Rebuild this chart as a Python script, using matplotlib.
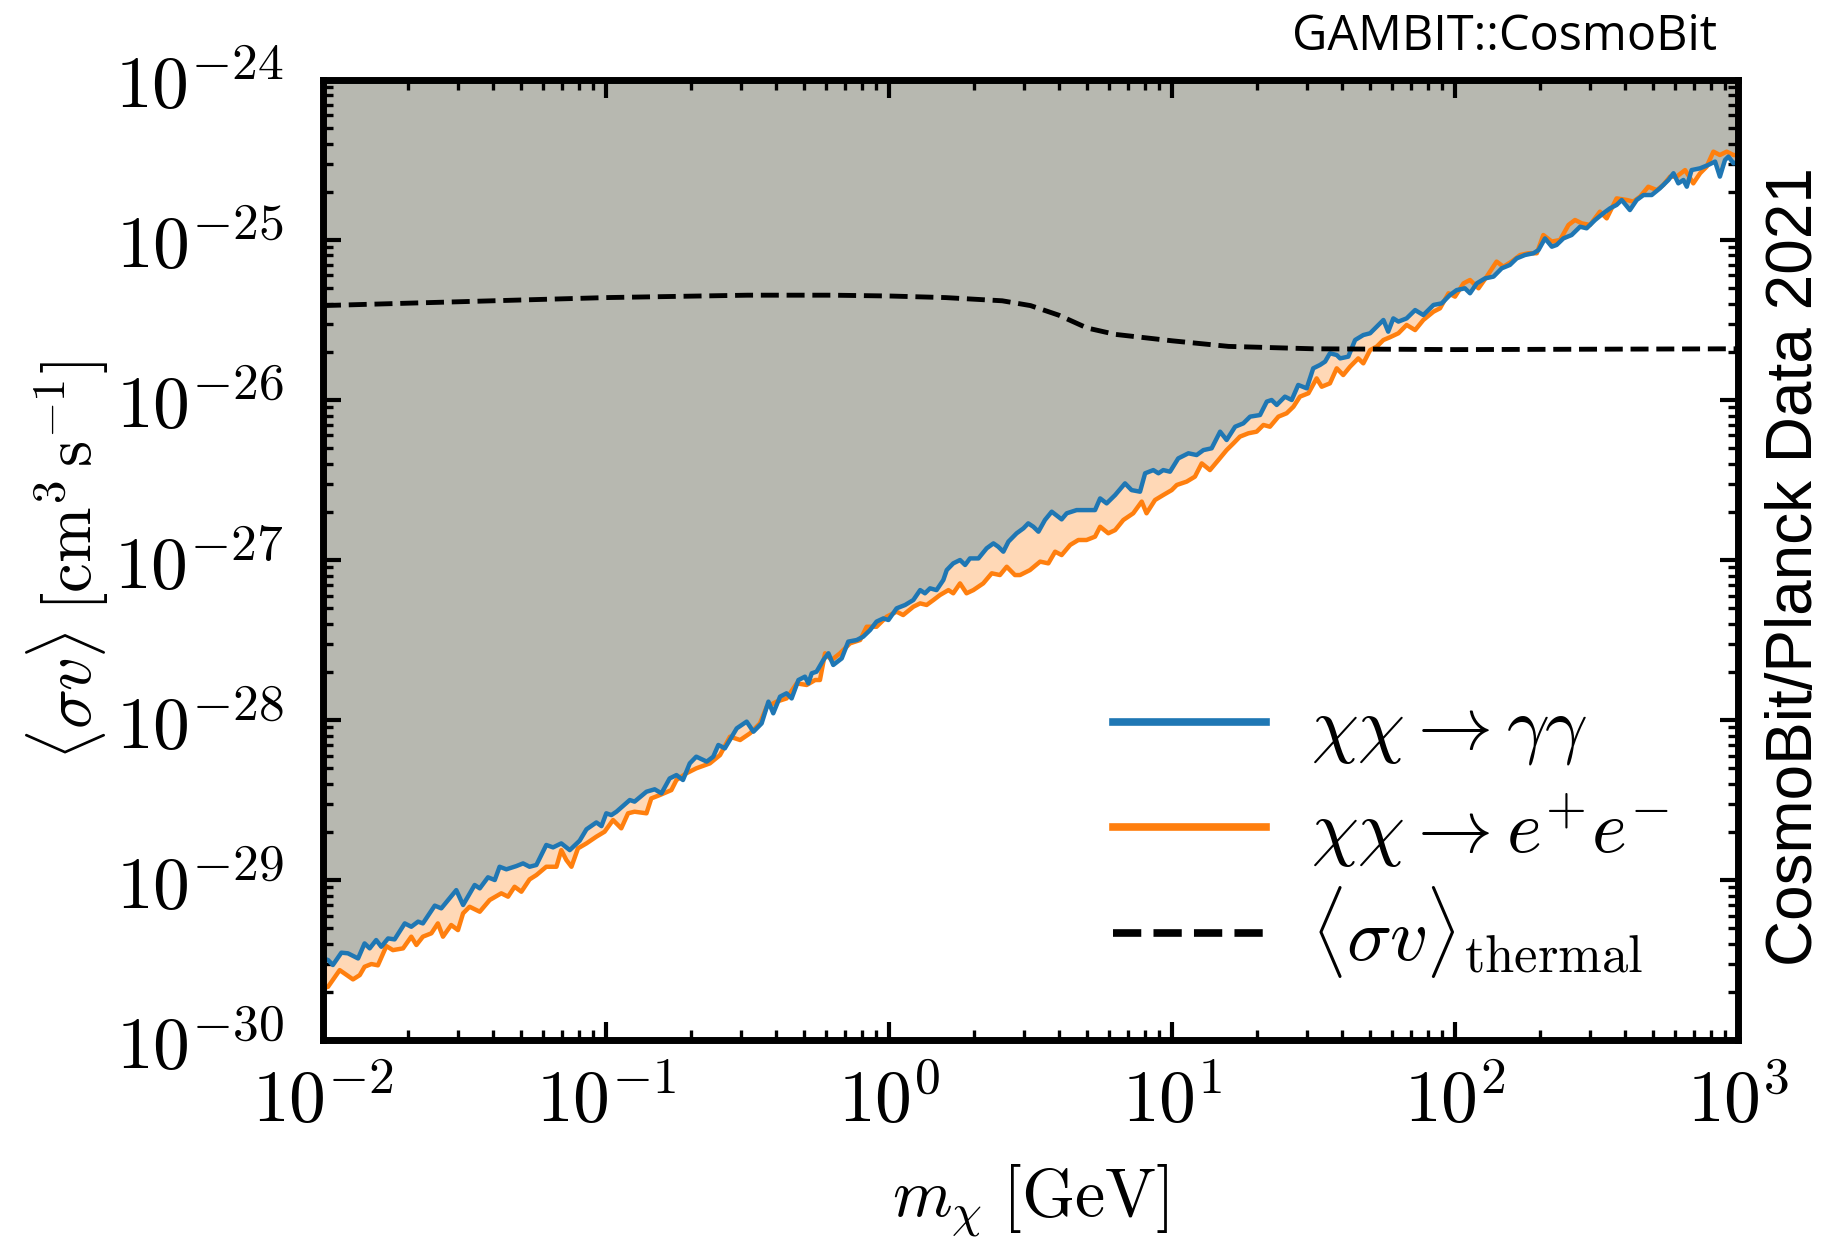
import numpy as np
import matplotlib
matplotlib.use("Agg")
import matplotlib.pyplot as plt
from matplotlib.lines import Line2D
from matplotlib.ticker import FuncFormatter, LogLocator, NullFormatter

plt.rcParams['mathtext.fontset'] = 'cm'
plt.rcParams['font.family'] = 'serif'

# values, stored as log10(m / GeV) and log10(<sigma v> / cm^3 s^-1)
# chi chi -> gamma gamma
gam_logm = [-2.0, -1.982, -1.965, -1.935, -1.912, -1.876, -1.853, -1.835, -1.812, -1.794, -1.770, -1.747,
            -1.711, -1.688, -1.664, -1.647, -1.605, -1.582, -1.529, -1.505, -1.464, -1.446, -1.417, -1.393,
            -1.376, -1.352, -1.317, -1.293, -1.270, -1.246, -1.211, -1.187, -1.158, -1.128, -1.093, -1.069,
            -1.034, -1.016, -0.999, -0.981, -0.963, -0.916, -0.899, -0.857, -0.828, -0.804, -0.775, -0.751,
            -0.728, -0.704, -0.681, -0.644, -0.621, -0.603, -0.580, -0.538, -0.503, -0.479, -0.450, -0.426,
            -0.409, -0.385, -0.362, -0.344, -0.320, -0.297, -0.285, -0.273, -0.256, -0.232, -0.214, -0.197,
            -0.167, -0.144, -0.114, -0.091, -0.067, -0.044, -0.020, -0.002, 0.027, 0.057, 0.086, 0.110,
            0.127, 0.145, 0.168, 0.192, 0.204, 0.227, 0.251, 0.269, 0.286, 0.316, 0.345, 0.369, 0.386,
            0.404, 0.422, 0.451, 0.475, 0.492, 0.510, 0.528, 0.551, 0.575, 0.610, 0.628, 0.663, 0.698,
            0.728, 0.746, 0.769, 0.799, 0.834, 0.857, 0.887, 0.905, 0.934, 0.952, 0.969, 0.993, 1.022,
            1.058, 1.087, 1.111, 1.140, 1.170, 1.193, 1.223, 1.252, 1.276, 1.311, 1.335, 1.352, 1.370,
            1.399, 1.423, 1.446, 1.476, 1.499, 1.523, 1.541, 1.558, 1.582, 1.594, 1.623, 1.647, 1.676,
            1.700, 1.723, 1.747, 1.764, 1.782, 1.800, 1.829, 1.859, 1.888, 1.924, 1.953, 1.982, 2.006,
            2.035, 2.053, 2.077, 2.106, 2.136, 2.165, 2.194, 2.218, 2.247, 2.277, 2.295, 2.318, 2.342,
            2.359, 2.383, 2.412, 2.442, 2.465, 2.495, 2.524, 2.548, 2.571, 2.589, 2.618, 2.642, 2.666,
            2.695, 2.724, 2.754, 2.772, 2.789, 2.807, 2.819, 2.836, 2.866, 2.895, 2.919, 2.936, 2.954,
            2.966, 2.984, 3.0]
gam_logsv = [-29.49, -29.500, -29.531, -29.454, -29.458, -29.490, -29.396, -29.427, -29.375, -29.417, -29.365, -29.371,
             -29.271, -29.292, -29.260, -29.271, -29.160, -29.177, -29.063, -29.156, -29.031, -29.052, -28.983, -29.000,
             -28.917, -28.933, -28.913, -28.896, -28.917, -28.906, -28.781, -28.796, -28.771, -28.813, -28.754, -28.683,
             -28.640, -28.663, -28.583, -28.594, -28.573, -28.500, -28.510, -28.448, -28.433, -28.458, -28.365, -28.344,
             -28.375, -28.271, -28.229, -28.260, -28.229, -28.156, -28.177, -28.052, -28.010, -28.073, -28.021, -27.885,
             -27.958, -27.854, -27.833, -27.865, -27.750, -27.729, -27.771, -27.708, -27.698, -27.625, -27.583, -27.656,
             -27.615, -27.510, -27.500, -27.479, -27.438, -27.385, -27.365, -27.375, -27.302, -27.281, -27.250, -27.188,
             -27.208, -27.177, -27.188, -27.125, -27.063, -27.021, -27.000, -27.031, -26.990, -26.990, -26.927, -26.896, -26.917,
             -26.948, -26.885, -26.833, -26.802, -26.771, -26.792, -26.823, -26.750, -26.698, -26.746, -26.708, -26.688, -26.688,
             -26.688, -26.615, -26.646, -26.594, -26.521, -26.563, -26.573, -26.458, -26.438, -26.458, -26.438, -26.448, -26.365,
             -26.333, -26.344, -26.313, -26.302, -26.198, -26.250, -26.167, -26.146, -26.104, -26.094, -26.010, -26.000, -26.031,
             -25.979, -26.000, -25.906, -25.927, -25.802, -25.781, -25.760, -25.708, -25.719, -25.740, -25.729, -25.625, -25.594,
             -25.583, -25.542, -25.500, -25.573, -25.490, -25.510, -25.490, -25.438, -25.469, -25.406, -25.396, -25.344, -25.313,
             -25.302, -25.333, -25.271, -25.240, -25.229, -25.177, -25.156, -25.115, -25.094, -25.083, -25.063, -24.990, -25.042,
             -25.031, -24.990, -24.969, -24.917, -24.927, -24.875, -24.833, -24.802, -24.781, -24.750, -24.813, -24.750, -24.719,
             -24.719, -24.677, -24.625, -24.583, -24.646, -24.625, -24.667, -24.563, -24.552, -24.531, -24.510, -24.604, -24.500,
             -24.479, -24.521, -24.51]

# chi chi -> e+ e-
ee_logm = [-2.0, -1.982, -1.941, -1.894, -1.870, -1.853, -1.829, -1.806, -1.776, -1.753, -1.717, -1.688, -1.670,
           -1.647, -1.617, -1.594, -1.576, -1.547, -1.523, -1.505, -1.482, -1.446, -1.411, -1.370, -1.346, -1.323,
           -1.299, -1.270, -1.246, -1.211, -1.175, -1.158, -1.140, -1.122, -1.099, -1.069, -1.034, -1.005, -0.975,
           -0.946, -0.922, -0.899, -0.857, -0.840, -0.810, -0.769, -0.751, -0.716, -0.681, -0.633, -0.597, -0.562,
           -0.526, -0.491, -0.456, -0.432, -0.397, -0.362, -0.326, -0.291, -0.261, -0.244, -0.226, -0.203, -0.173,
           -0.138, -0.102, -0.079, -0.044, -0.008, 0.027, 0.050, 0.086, 0.110, 0.133, 0.157, 0.180, 0.210, 0.227,
           0.251, 0.274, 0.298, 0.333, 0.363, 0.392, 0.416, 0.445, 0.463, 0.498, 0.534, 0.563, 0.587, 0.610, 0.640,
           0.669, 0.698, 0.728, 0.746, 0.775, 0.799, 0.828, 0.863, 0.893, 0.910, 0.940, 0.969, 0.999, 1.017, 1.052,
           1.081, 1.105, 1.134, 1.164, 1.193, 1.217, 1.240, 1.270, 1.299, 1.323, 1.346, 1.376, 1.405, 1.429, 1.452,
           1.482, 1.511, 1.529, 1.558, 1.582, 1.605, 1.629, 1.658, 1.676, 1.700, 1.723, 1.747, 1.770, 1.800, 1.829,
           1.859, 1.888, 1.924, 1.947, 1.977, 2.000, 2.030, 2.053, 2.083, 2.112, 2.147, 2.171, 2.200, 2.230, 2.259,
           2.289, 2.312, 2.342, 2.371, 2.401, 2.424, 2.448, 2.477, 2.512, 2.536, 2.571, 2.607, 2.630, 2.654, 2.683,
           2.713, 2.736, 2.760, 2.783, 2.813, 2.842, 2.866, 2.889, 2.913, 2.936, 2.960, 2.984, 3.0]
ee_logsv = [-29.677, -29.667, -29.563, -29.621, -29.594, -29.542, -29.525, -29.533, -29.413, -29.438, -29.427, -29.354, -29.406,
            -29.354, -29.333, -29.271, -29.354, -29.281, -29.313, -29.208, -29.167, -29.198, -29.125, -29.083, -29.104, -29.042,
            -29.073, -28.996, -28.969, -28.917, -28.917, -28.813, -28.875, -28.917, -28.802, -28.771, -28.729, -28.698, -28.625,
            -28.677, -28.583, -28.573, -28.583, -28.490, -28.469, -28.438, -28.375, -28.333, -28.302, -28.271, -28.219, -28.104,
            -28.125, -28.083, -28.021, -27.917, -27.885, -27.865, -27.771, -27.781, -27.750, -27.750, -27.583, -27.625, -27.583,
            -27.521, -27.500, -27.417, -27.417, -27.354, -27.323, -27.344, -27.292, -27.271, -27.281, -27.250, -27.219, -27.188, -27.208,
            -27.146, -27.208, -27.188, -27.146, -27.083, -27.094, -27.042, -27.094, -27.094, -27.063, -27.010, -27.021, -26.948, -26.969, -26.906,
            -26.875, -26.875, -26.854, -26.792, -26.833, -26.813, -26.750, -26.708, -26.635, -26.708, -26.625, -26.594, -26.563, -26.531, -26.510,
            -26.479, -26.396, -26.438, -26.375, -26.313, -26.271, -26.229, -26.208, -26.198, -26.156, -26.167, -26.104, -26.083, -26.042, -25.979,
            -25.958, -25.865, -25.917, -25.896, -25.802, -25.844, -25.792, -25.740, -25.771, -25.688, -25.667, -25.625, -25.608, -25.583, -25.531,
            -25.563, -25.500, -25.448, -25.427, -25.333, -25.354, -25.271, -25.250, -25.302, -25.229, -25.135, -25.167, -25.135, -25.094, -25.083,
            -25.083, -24.969, -25.010, -25.000, -24.906, -24.875, -24.896, -24.906, -24.823, -24.865, -24.740, -24.750, -24.760, -24.729, -24.667,
            -24.688, -24.656, -24.604, -24.604, -24.563, -24.646, -24.583, -24.542, -24.448, -24.469, -24.448, -24.469, -24.47]

# thermal relic cross section
th_logm = [-2.0, -1.5, -1.0, -0.5, -0.2, 0.0, 0.2, 0.4, 0.5, 0.6, 0.7, 0.8, 1.0, 1.2, 1.5, 2.0, 3.0]
th_logsv = [-25.41, -25.385, -25.36, -25.345, -25.345, -25.35, -25.36, -25.38, -25.41, -25.47, -25.55, -25.59,
            -25.63, -25.665, -25.68, -25.685, -25.68]

labels = [r'$\chi\chi\rightarrow\gamma\gamma$', r'$\chi\chi\rightarrow e^{+}e^{-}$',
          r'$\langle\sigma v\rangle_{\rm thermal}$']

blue = '#1f77b4'
orange = '#ff7f0e'

m_g = 10**np.array(gam_logm)
sv_g = 10**np.array(gam_logsv)
m_e = 10**np.array(ee_logm)
sv_e = 10**np.array(ee_logsv)
m_th = 10**np.array(th_logm)
sv_th = 10**np.array(th_logsv)

fig = plt.figure(figsize=(18.32, 12.38), dpi=100)
ax = fig.add_axes([0.1763, 0.1599, 0.7724, 0.7755])

ax.fill_between(m_e, sv_e, 1e-24, color=orange, alpha=0.3, lw=0)
ax.fill_between(m_g, sv_g, 1e-24, color='#b7b8b0', lw=0)
ax.plot(m_e, sv_e, color=orange, lw=3.2)
ax.plot(m_g, sv_g, color=blue, lw=3.2)
ax.plot(m_th, sv_th, color='k', lw=3.5, ls='--')

ax.set_xscale('log')
ax.set_yscale('log')
ax.set_xlim(1e-2, 1e3)
ax.set_ylim(1e-30, 1e-24)

fmt = FuncFormatter(lambda v, p: r'$10^{%d}$' % int(round(np.log10(v))))
ax.xaxis.set_major_formatter(fmt)
ax.yaxis.set_major_formatter(fmt)
ax.xaxis.set_minor_locator(LogLocator(base=10, subs=np.arange(2, 10), numticks=20))
ax.yaxis.set_minor_locator(LogLocator(base=10, subs=np.arange(2, 10), numticks=20))
ax.xaxis.set_minor_formatter(NullFormatter())
ax.yaxis.set_minor_formatter(NullFormatter())

ax.tick_params(which='both', direction='in', top=True, right=True, labelsize=53)
ax.tick_params(which='major', length=13, width=3)
ax.tick_params(which='minor', length=7, width=2.4)
ax.tick_params(axis='x', which='major', pad=18)
ax.tick_params(axis='y', which='major', pad=28)
for s in ax.spines.values():
    s.set_linewidth(5)

ax.set_xlabel(r'$m_\chi\;[\mathrm{GeV}]$', fontsize=49)
ax.set_ylabel(r'$\langle\sigma v\rangle\;[\mathrm{cm}^3\,\mathrm{s}^{-1}]$', fontsize=48)
ax.xaxis.set_label_coords(0.5, -0.127)
ax.yaxis.set_label_coords(-0.150, 0.5)

# two legends so the rows keep the even spacing of the original
h_proc = [Line2D([], [], color=blue, lw=5.5), Line2D([], [], color=orange, lw=5.5)]
h_th = [Line2D([], [], color='k', lw=5.5, ls='--')]
leg_kw = dict(frameon=False, fontsize=54, handlelength=2.05, handletextpad=0.6,
              borderpad=0, borderaxespad=0)
leg1 = ax.legend(h_proc, labels[:2], loc='center left', bbox_to_anchor=(0.558, 0.270),
                 labelspacing=0.32, **leg_kw)
ax.add_artist(leg1)
ax.legend(h_th, labels[2:], loc='center left', bbox_to_anchor=(0.558, 0.113), **leg_kw)

fig.text(0.937, 0.9596, 'GAMBIT::CosmoBit', ha='right', va='baseline',
         fontsize=35, family='Open Sans')
fig.text(0.980, 0.542, 'CosmoBit/Planck Data 2021', rotation=90, ha='center', va='center',
         fontsize=46, family='Liberation Sans')

fig.savefig('out.png', dpi=100)
